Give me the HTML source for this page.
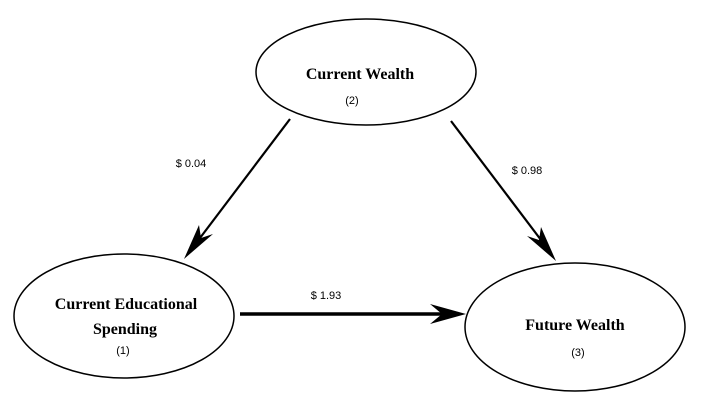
<!DOCTYPE html>
<html><head><style>body{margin:0;background:#fff}svg{display:block}</style></head><body>
<svg width="701" height="401" xmlns="http://www.w3.org/2000/svg">
<g fill="none" stroke="#000" stroke-width="1.5">
<ellipse cx="366" cy="72" rx="110" ry="53"/>
<ellipse cx="124" cy="316" rx="110" ry="62"/>
<ellipse cx="575" cy="327" rx="110" ry="64"/>
</g>
<g stroke="#000" stroke-width="2.2">
<line x1="290" y1="119" x2="200" y2="238"/>
<line x1="451" y1="121" x2="541" y2="240"/>
</g>
<line x1="240" y1="314" x2="450" y2="314" stroke="#000" stroke-width="3.5"/>
<g fill="#000">
<polygon points="184,259 199,225 201,238 213,234"/>
<polygon points="556,261 541,227 539,240 527,236"/>
<polygon points="466,314 430,304 442,314 430,324"/>
</g>
<g font-family="Liberation Serif, serif" font-weight="bold" font-size="16" text-anchor="middle">
<text x="360" y="79">Current Wealth</text>
<text x="126" y="309">Current Educational</text>
<text x="125" y="334">Spending</text>
<text x="575" y="330">Future Wealth</text>
</g>
<g font-family="Liberation Sans, sans-serif" font-size="11" text-anchor="middle">
<text x="352" y="104">(2)</text>
<text x="123" y="354">(1)</text>
<text x="578" y="356">(3)</text>
<text x="191" y="167">$ 0.04</text>
<text x="527" y="174">$ 0.98</text>
<text x="326" y="299">$ 1.93</text>
</g>
</svg>
</body></html>
